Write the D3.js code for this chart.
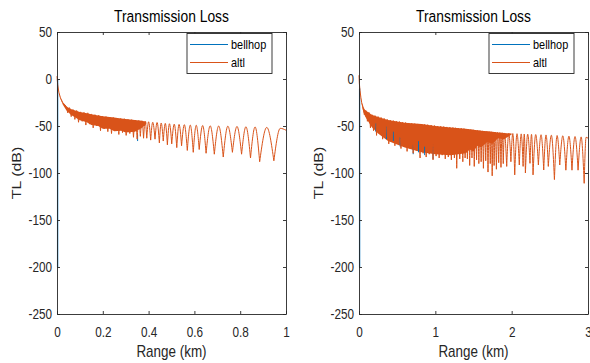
<!DOCTYPE html>
<html>
<head>
<meta charset="utf-8">
<script src="https://cdn.jsdelivr.net/npm/d3@7/dist/d3.min.js"></script>
<style>
  body { margin: 0; background: #fff; }
  svg { display: block; font-family: "Liberation Sans", Arial, sans-serif; }
</style>
</head>
<body>
<svg width="590" height="363"></svg>
<script>
// ---- data ----
const seriesNames = ["bellhop", "altl"];
const titleText = "Transmission Loss";
const xLabelText = "Range (km)";
const yLabelText = "TL (dB)";

const yTicks = [-250, -200, -150, -100, -50, 0, 50];
const leftXTicks = [0, 0.2, 0.4, 0.6, 0.8, 1];
const rightXTicks = [0, 1, 2, 3];

// dense part of the altl curve: [range km, upper TL, lower TL]
const bandLeft = [
  [0, 3, 3], [0.003, -6, -6], [0.008, -14, -14], [0.015, -20, -21], [0.025, -25, -27],
  [0.04, -29, -33], [0.06, -32, -38], [0.1, -35, -44], [0.13, -36.5, -46], [0.15, -37.5, -49],
  [0.18, -38.8, -50], [0.2, -39.5, -53], [0.23, -40.5, -53], [0.25, -41, -55.5], [0.28, -42, -55],
  [0.3, -42.5, -57], [0.34, -43.5, -56], [0.37, -44.5, -52], [0.39, -45.5, -48]
];
const bandRight = [
  [0, 4, 4], [0.005, -5, -5], [0.013, -12, -12], [0.025, -20, -21], [0.035, -25, -27],
  [0.05, -29, -33], [0.08, -33, -40], [0.166, -38, -51], [0.25, -40.5, -58], [0.38, -43.5, -66],
  [0.6, -46.5, -73], [0.82, -48, -78], [1.0, -50, -80], [1.2, -51.5, -81], [1.4, -53, -79],
  [1.45, -53.5, -75], [1.5, -54, -77], [1.55, -54.5, -71], [1.6, -55, -73], [1.68, -55.5, -67],
  [1.75, -56.2, -69], [1.82, -56.8, -63], [1.9, -57.5, -64], [2.0, -58, -59]
];

// altl turning points (peaks and nulls): [range km, TL dB]
const altlLeft = [
  [0, 3], [0.003, -6], [0.008, -14], [0.015, -20], [0.025, -25], [0.04, -29],
  [0.047, -36], [0.054, -30.5], [0.062, -40], [0.07, -32.5], [0.078, -43], [0.086, -33.5],
  [0.094, -46], [0.102, -35], [0.11, -45], [0.118, -35.5], [0.126, -49], [0.134, -36],
  [0.142, -48], [0.15, -37.5], [0.158, -52], [0.166, -38], [0.174, -50], [0.182, -38.5],
  [0.19, -55], [0.198, -39.5], [0.206, -53], [0.214, -40], [0.222, -56], [0.23, -40.5],
  [0.238, -58], [0.246, -41], [0.254, -55], [0.262, -41.5], [0.27, -59], [0.278, -42],
  [0.286, -57], [0.294, -42.3], [0.302, -60], [0.31, -43], [0.318, -58], [0.326, -43.3],
  [0.334, -62], [0.342, -43.8], [0.35, -64], [0.357, -44.2], [0.364, -61], [0.371, -44.5],
  [0.378, -63], [0.385, -45], [0.392, -63], [0.4, -45.5], [0.409, -65], [0.418, -46],
  [0.428, -64], [0.437, -46.3], [0.447, -68], [0.455, -46.8], [0.464, -66], [0.473, -47.2],
  [0.482, -70], [0.491, -47.6], [0.501, -69], [0.512, -48], [0.523, -73], [0.533, -48.3],
  [0.544, -71], [0.556, -48.6], [0.569, -76], [0.582, -49], [0.595, -78], [0.608, -49.2],
  [0.621, -75], [0.636, -49.5], [0.651, -79], [0.669, -49.8], [0.687, -80], [0.706, -50],
  [0.726, -83], [0.746, -50.2], [0.766, -78], [0.786, -50.5], [0.806, -80], [0.825, -50.8],
  [0.845, -84], [0.865, -51], [0.885, -88], [0.916, -51.5], [0.947, -87], [0.975, -52.5],
  [1.0, -54.5]
];
const altlRight = [
  [0, 4], [0.005, -5], [0.013, -12], [0.025, -20], [0.035, -25], [0.05, -29],
  [0.07, -38], [0.09, -33.5], [0.11, -45], [0.13, -35.5], [0.15, -52], [0.17, -38],
  [0.19, -55], [0.21, -39], [0.23, -60], [0.25, -40], [0.27, -58], [0.29, -41],
  [0.31, -64], [0.33, -42], [0.35, -62], [0.37, -43], [0.39, -69], [0.41, -43.8],
  [0.43, -66], [0.45, -44.3], [0.47, -71], [0.49, -44.8], [0.51, -69], [0.53, -45.3],
  [0.55, -74], [0.57, -45.8], [0.59, -72], [0.61, -46.3], [0.63, -77], [0.65, -46.8],
  [0.67, -74], [0.69, -47.2], [0.71, -79], [0.73, -47.5], [0.75, -76], [0.77, -47.8],
  [0.8, -84], [0.82, -48], [0.84, -79], [0.86, -48.3], [0.88, -83], [0.9, -48.6],
  [0.92, -80], [0.945, -49], [0.97, -86], [0.99, -49.5], [1.01, -82], [1.03, -50],
  [1.05, -84], [1.07, -50.3], [1.09, -81], [1.11, -50.6], [1.13, -85], [1.15, -51],
  [1.17, -83], [1.19, -51.3], [1.21, -86], [1.23, -51.6], [1.25, -84], [1.265, -51.9],
  [1.28, -95], [1.3, -52.2], [1.32, -85], [1.34, -52.5], [1.36, -88], [1.375, -52.8],
  [1.39, -84], [1.405, -53.2], [1.42, -85], [1.435, -53.5], [1.45, -92], [1.465, -53.8],
  [1.48, -84], [1.495, -54], [1.51, -93], [1.525, -54.3], [1.54, -86], [1.555, -54.6],
  [1.57, -90], [1.585, -54.9], [1.6, -88], [1.615, -55.2], [1.63, -95], [1.645, -55.5],
  [1.66, -87], [1.675, -55.8], [1.69, -99], [1.705, -56], [1.72, -90], [1.732, -56.2],
  [1.745, -103], [1.758, -56.4], [1.77, -92], [1.785, -56.6], [1.8, -96], [1.815, -56.8],
  [1.83, -89], [1.845, -57], [1.86, -94], [1.875, -57.2], [1.89, -90], [1.905, -57.4],
  [1.935, -93], [1.962, -57.8], [1.99, -88], [2.015, -58], [2.04, -102], [2.07, -58.2],
  [2.1, -91.5], [2.125, -58.4], [2.15, -93], [2.165, -58.5], [2.18, -100], [2.21, -58.7],
  [2.24, -89.7], [2.26, -58.9], [2.28, -102], [2.315, -59.1], [2.35, -91.5], [2.385, -59.3],
  [2.42, -96.8], [2.45, -59.5], [2.48, -93], [2.52, -59.8], [2.56, -107], [2.595, -60.1],
  [2.63, -91.5], [2.67, -60.4], [2.71, -97], [2.75, -60.8], [2.79, -97], [2.83, -61.2],
  [2.87, -97], [2.91, -61.6], [2.95, -111], [2.975, -62], [3.0, -63]
];

// bellhop: the parts that show past the altl curve
const bellhopLeft = [[0, -200], [0, 0]];
const bellhopLeftSpikes = [[0.352, -59, -66]];
const bellhopRight = [[0, -200], [0, -10]];
const bellhopRightSpikes = [
  [0.22, -47, -56], [0.36, -50, -64], [0.45, -56, -66], [0.54, -62, -72],
  [0.71, -70, -80], [0.78, -66, -78], [0.86, -72, -81], [0.97, -70, -85]
];

// ---- drawing ----
const svg = d3.select("svg");
const blue = "#0072BD";
const orange = "#D95319";
const ink = "#262626";
const squish = 0.84; // the picture is narrowed sideways

const plotTop = 32, plotBottom = 314;

const panels = [
  { id: "a", x0: 57, x1: 286, xMax: 1, xTicks: leftXTicks, band: bandLeft, altl: altlLeft,
    bh: bellhopLeft, bhSpikes: bellhopLeftSpikes, legendX: 187, yLabelX: 21 },
  { id: "b", x0: 359, x1: 588, xMax: 3, xTicks: rightXTicks, band: bandRight, altl: altlRight,
    bh: bellhopRight, bhSpikes: bellhopRightSpikes, legendX: 489, yLabelX: 323 }
];

// split turning points into the first fall and one arc per peak (null-peak-null)
function arcPieces(pts) {
  let firstNull = 1;
  while (firstNull < pts.length - 1 && pts[firstNull + 1][1] <= pts[firstNull][1]) firstNull++;
  const pieces = [pts.slice(0, firstNull + 1)];
  for (let i = firstNull + 1; i < pts.length - 1; i++) {
    if (pts[i][1] > pts[i - 1][1] && pts[i][1] > pts[i + 1][1]) {
      pieces.push([pts[i - 1], pts[i], pts[i + 1]]);
    }
  }
  return pieces;
}

panels.forEach(p => {
  const x = d3.scaleLinear().domain([0, p.xMax]).range([p.x0, p.x1]);
  const y = d3.scaleLinear().domain([-250, 50]).range([plotBottom, plotTop]);

  const clipId = "clip-" + p.id;
  svg.append("clipPath").attr("id", clipId)
    .append("rect")
    .attr("x", p.x0 - 1).attr("y", plotTop)
    .attr("width", p.x1 - p.x0 + 1).attr("height", plotBottom - plotTop);

  const plot = svg.append("g").attr("clip-path", `url(#${clipId})`);

  // bellhop first (legend order)
  plot.append("path")
    .datum(p.bh)
    .attr("fill", "none")
    .attr("stroke", blue)
    .attr("stroke-width", 1.3)
    .attr("d", d3.line().x(d => x(d[0]) + 0.6).y(d => y(d[1])));

  // altl dense band
  plot.append("path")
    .datum(p.band)
    .attr("fill", orange)
    .attr("d", d3.area().x(d => x(d[0])).y0(d => y(d[2])).y1(d => y(d[1])));

  // bellhop spikes showing through the band
  plot.selectAll("line.bh")
    .data(p.bhSpikes)
    .enter()
    .append("line")
    .attr("class", "bh")
    .attr("x1", d => x(d[0])).attr("x2", d => x(d[0]))
    .attr("y1", d => y(d[1])).attr("y2", d => y(d[2]))
    .attr("stroke", blue)
    .attr("stroke-width", 1);

  // altl curve: round tops, sharp nulls
  const pieces = arcPieces(p.altl);
  const fall = d3.line().x(d => x(d[0])).y(d => y(d[1]));
  const arc = d3.line().curve(d3.curveMonotoneX).x(d => x(d[0])).y(d => y(d[1]));
  plot.append("path")
    .attr("fill", "none")
    .attr("stroke", orange)
    .attr("stroke-width", 1)
    .attr("stroke-linejoin", "round")
    .attr("d", pieces.map((pc, i) => i === 0 ? fall(pc) : arc(pc)).join(""));

  // axes, MATLAB box style with inward ticks
  const fmt = d => String(d);
  const gx = svg.append("g")
    .attr("transform", `translate(0,${plotBottom})`)
    .call(d3.axisBottom(x).tickValues(p.xTicks).tickFormat(fmt).tickSize(-3).tickSizeOuter(0).tickPadding(13));
  const gy = svg.append("g")
    .attr("transform", `translate(${p.x0},0)`)
    .call(d3.axisLeft(y).tickValues(yTicks).tickFormat(fmt).tickSize(-3).tickSizeOuter(0).tickPadding(5));
  svg.append("g")
    .attr("transform", `translate(0,${plotTop})`)
    .call(d3.axisTop(x).tickValues(p.xTicks).tickFormat("").tickSize(-3).tickSizeOuter(0));
  svg.append("g")
    .attr("transform", `translate(${p.x1},0)`)
    .call(d3.axisRight(y).tickValues(yTicks).tickFormat("").tickSize(-3).tickSizeOuter(0));

  svg.selectAll(".domain, .tick line").attr("stroke", ink).attr("stroke-width", 0.9);
  [gx, gy].forEach(ax => {
    ax.selectAll("text")
      .attr("fill", ink)
      .style("font-size", "14px")
      .attr("transform", `scale(${squish},1)`);
  });
  // axisLeft text sits at x = -padding; keep right edges in place after squish
  gy.selectAll("text").attr("x", -5 / squish);

  // title and labels
  const cx = (p.x0 + p.x1) / 2;
  svg.append("text")
    .attr("transform", `translate(${cx},22) scale(${squish},1)`)
    .attr("text-anchor", "middle")
    .attr("fill", "#000")
    .style("font-size", "16.5px")
    .text(titleText);
  svg.append("text")
    .attr("transform", `translate(${cx},357) scale(${squish},1)`)
    .attr("text-anchor", "middle")
    .attr("fill", ink)
    .style("font-size", "16px")
    .text(xLabelText);
  svg.append("text")
    .attr("transform", `translate(${p.yLabelX},173) scale(${squish},1) rotate(-90)`)
    .attr("text-anchor", "middle")
    .attr("fill", ink)
    .style("font-size", "16px")
    .text(yLabelText);

  // legend
  const lg = svg.append("g").attr("transform", `translate(${p.legendX},33.5)`);
  lg.append("rect")
    .attr("width", 85).attr("height", 40)
    .attr("fill", "#fff").attr("stroke", ink).attr("stroke-width", 0.9);
  const colors = [blue, orange];
  seriesNames.forEach((name, i) => {
    const ly = 11 + i * 18;
    lg.append("line")
      .attr("x1", 3).attr("x2", 41).attr("y1", ly).attr("y2", ly)
      .attr("stroke", colors[i]).attr("stroke-width", 1.2);
    lg.append("text")
      .attr("transform", `translate(44,${ly + 4.5}) scale(${squish},1)`)
      .attr("fill", "#000")
      .style("font-size", "13px")
      .text(name);
  });
});
</script>
</body>
</html>
